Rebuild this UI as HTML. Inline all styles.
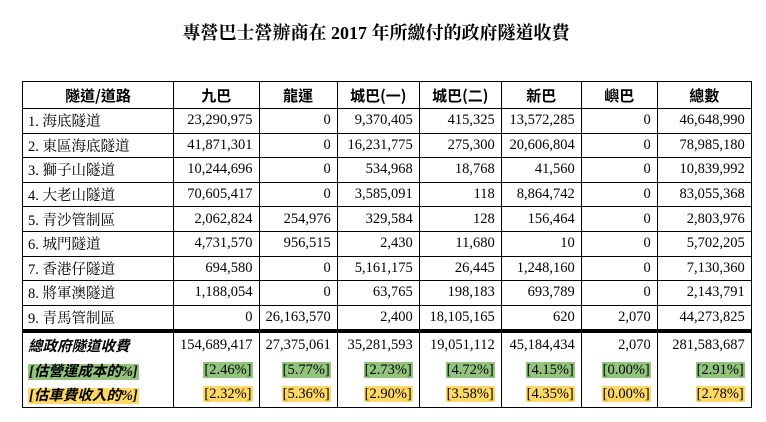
<!DOCTYPE html>
<html><head><meta charset="utf-8"><style>
body{margin:0;width:766px;height:422px;background:#fff;position:relative;overflow:hidden;font-family:"Liberation Serif","Noto Serif CJK SC",serif;color:#000}
.t{position:absolute;top:19px;left:0;width:752px;text-align:center;font-weight:bold;font-size:18px;font-family:"Liberation Serif","Noto Serif CJK TC","Noto Sans CJK TC",serif}
table{position:absolute;left:22px;top:81px;border-collapse:collapse;table-layout:fixed;font-size:14.5px}
td,th{border:1px solid #000;padding:0 6px;height:23.6px;white-space:nowrap}
th{height:26px;font-family:"Noto Sans CJK TC",sans-serif;font-size:15px;font-weight:bold;text-align:center}
td{text-align:right}
td:first-child{text-align:left;padding-left:5px}
tr.s td{border-top:none;border-bottom:none;height:24.5px}
tr.s1 td{border-top:4px solid #000}
tr.last td{border-bottom:1px solid #000}
.lb{font-weight:bold;font-style:italic;font-family:"Liberation Serif","Noto Sans CJK TC",sans-serif}
.g{background:#93c47d;padding:0 1px}
.y{background:#ffd966;padding:0 1px}
</style></head><body>
<div class="t">專營巴士營辦商在 2017 年所繳付的政府隧道收費</div>
<table>
<colgroup><col style="width:151px"><col style="width:85px"><col style="width:78px"><col style="width:82px"><col style="width:82px"><col style="width:80px"><col style="width:76px"><col style="width:94px"></colgroup>
<tr><th>隧道/道路</th><th>九巴</th><th>龍運</th><th>城巴(一)</th><th>城巴(二)</th><th>新巴</th><th>嶼巴</th><th>總數</th></tr>
<tr><td>1. 海底隧道</td><td>23,290,975</td><td>0</td><td>9,370,405</td><td>415,325</td><td>13,572,285</td><td>0</td><td>46,648,990</td></tr>
<tr><td>2. 東區海底隧道</td><td>41,871,301</td><td>0</td><td>16,231,775</td><td>275,300</td><td>20,606,804</td><td>0</td><td>78,985,180</td></tr>
<tr><td>3. 獅子山隧道</td><td>10,244,696</td><td>0</td><td>534,968</td><td>18,768</td><td>41,560</td><td>0</td><td>10,839,992</td></tr>
<tr><td>4. 大老山隧道</td><td>70,605,417</td><td>0</td><td>3,585,091</td><td>118</td><td>8,864,742</td><td>0</td><td>83,055,368</td></tr>
<tr><td>5. 青沙管制區</td><td>2,062,824</td><td>254,976</td><td>329,584</td><td>128</td><td>156,464</td><td>0</td><td>2,803,976</td></tr>
<tr><td>6. 城門隧道</td><td>4,731,570</td><td>956,515</td><td>2,430</td><td>11,680</td><td>10</td><td>0</td><td>5,702,205</td></tr>
<tr><td>7. 香港仔隧道</td><td>694,580</td><td>0</td><td>5,161,175</td><td>26,445</td><td>1,248,160</td><td>0</td><td>7,130,360</td></tr>
<tr><td>8. 將軍澳隧道</td><td>1,188,054</td><td>0</td><td>63,765</td><td>198,183</td><td>693,789</td><td>0</td><td>2,143,791</td></tr>
<tr><td>9. 青馬管制區</td><td>0</td><td>26,163,570</td><td>2,400</td><td>18,105,165</td><td>620</td><td>2,070</td><td>44,273,825</td></tr>
<tr class="s s1"><td class="lb">總政府隧道收費</td><td>154,689,417</td><td>27,375,061</td><td>35,281,593</td><td>19,051,112</td><td>45,184,434</td><td>2,070</td><td>281,583,687</td></tr>
<tr class="s"><td class="lb"><span class="g">[估營運成本的%]</span></td><td><span class="g">[2.46%]</span></td><td><span class="g">[5.77%]</span></td><td><span class="g">[2.73%]</span></td><td><span class="g">[4.72%]</span></td><td><span class="g">[4.15%]</span></td><td><span class="g">[0.00%]</span></td><td><span class="g">[2.91%]</span></td></tr>
<tr class="s last"><td class="lb"><span class="y">[估車費收入的%]</span></td><td><span class="y">[2.32%]</span></td><td><span class="y">[5.36%]</span></td><td><span class="y">[2.90%]</span></td><td><span class="y">[3.58%]</span></td><td><span class="y">[4.35%]</span></td><td><span class="y">[0.00%]</span></td><td><span class="y">[2.78%]</span></td></tr>
</table>
</body></html>
